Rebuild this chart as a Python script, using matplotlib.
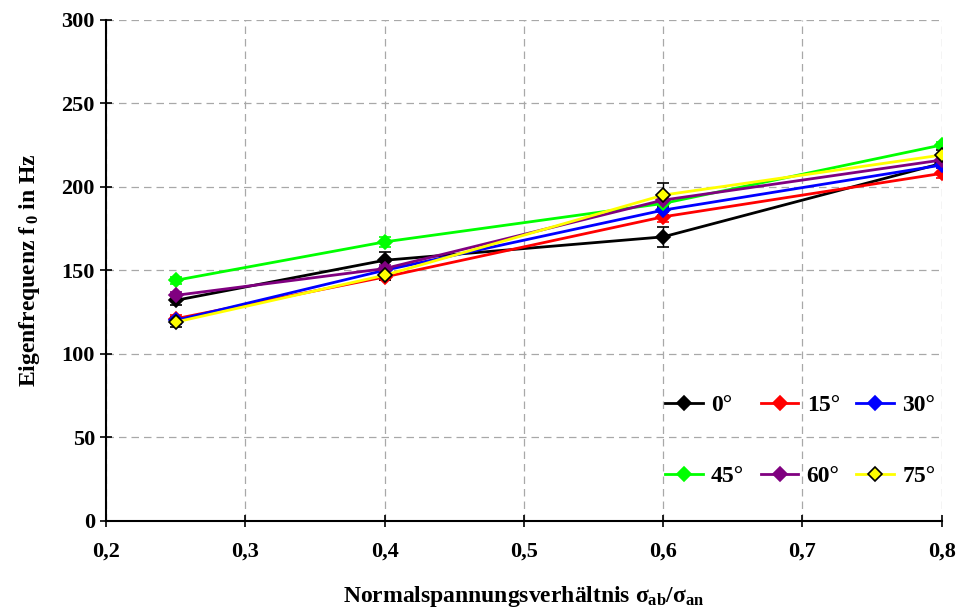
import matplotlib.pyplot as plt
from matplotlib.lines import Line2D

plt.rcParams["font.family"] = ["Liberation Serif", "DejaVu Serif"]
plt.rcParams["font.weight"] = "bold"
plt.rcParams["axes.labelweight"] = "bold"
plt.rcParams["mathtext.fontset"] = "custom"
plt.rcParams["mathtext.rm"] = "Liberation Serif:bold"
plt.rcParams["mathtext.it"] = "Liberation Serif:bold"
plt.rcParams["mathtext.bf"] = "Liberation Serif:bold"

# data
ratio = [0.25, 0.4, 0.6, 0.8]
labels = ["0°", "15°", "30°", "45°", "60°", "75°"]
f0 = {
    "0°":  [132, 156, 170, 214],
    "15°": [121, 146, 182, 208],
    "30°": [120, 150, 186, 213],
    "45°": [144, 167, 190, 225],
    "60°": [135, 151, 192, 216],
    "75°": [119, 147, 195, 219],
}
f0_err = {
    "0°":  [3, 5, 6, 3],
    "15°": [2, 2, 3, 3],
    "30°": [2, 2, 3, 2],
    "45°": [2, 3, 3, 2],
    "60°": [2, 2, 3, 2],
    "75°": [3, 3, 7, 3],
}
xticks = [0.2, 0.3, 0.4, 0.5, 0.6, 0.7, 0.8]
xtick_labels = ["0,2", "0,3", "0,4", "0,5", "0,6", "0,7", "0,8"]
yticks = [0, 50, 100, 150, 200, 250, 300]

colors = ["black", "#ff0000", "#0000ff", "#00ff00", "#800080", "#ffff00"]

fig = plt.figure(figsize=(9.59, 6.15), dpi=100)
ax = fig.add_axes([0.1105, 0.153, 0.8715, 0.815])

handles = []
for k, lab in enumerate(labels):
    c = colors[k]
    edge = "black" if lab == "75°" else c
    ax.errorbar(ratio, f0[lab], yerr=f0_err[lab], color=c, lw=2,
                marker="D", markersize=7.5 if lab == "75°" else 7,
                markerfacecolor=c, markeredgecolor=edge, markeredgewidth=1.2,
                ecolor=edge, elinewidth=1, capsize=4, capthick=1)
    handles.append(Line2D([], [], color=c, lw=2, marker="D",
                          markersize=7.5 if lab == "75°" else 7,
                          markerfacecolor=c, markeredgecolor=edge,
                          markeredgewidth=1.2, label=lab))

ax.set_xlim(0.2, 0.8)
ax.set_ylim(0, 300)
ax.set_xticks(xticks)
ax.set_xticklabels(xtick_labels)
ax.set_yticks(yticks)
ax.tick_params(axis="both", direction="inout", length=8, width=1.2, labelsize=16)
ax.tick_params(axis="x", pad=11)
ax.tick_params(axis="y", pad=4)
for t in ax.get_xticklabels() + ax.get_yticklabels():
    t.set_fontweight("bold")
for s in ["top", "right"]:
    ax.spines[s].set_visible(False)
for s in ["left", "bottom"]:
    ax.spines[s].set_linewidth(1.5)
ax.grid(True, color="#a8a8a8", linestyle=(0, (6, 4)), linewidth=0.9)
ax.set_axisbelow(True)

ax.set_xlabel(r"Normalspannungsverhältnis $\sigma_{ab}/\sigma_{an}$", fontsize=17, labelpad=16)
ax.set_ylabel(r"Eigenfrequenz f$_{\,0}$ in Hz", fontsize=17, labelpad=14)

# row-major order for 2 rows x 3 columns
order = [0, 3, 1, 4, 2, 5]
ax.legend([handles[i] for i in order], [labels[i] for i in order],
          ncol=3, loc="lower right", bbox_to_anchor=(1.018, 0.025), frameon=False,
          prop={"size": 17, "weight": "bold"}, handlelength=1.6,
          handletextpad=0.35, columnspacing=0.7, labelspacing=2.1)

fig.savefig("out.png", dpi=100)
